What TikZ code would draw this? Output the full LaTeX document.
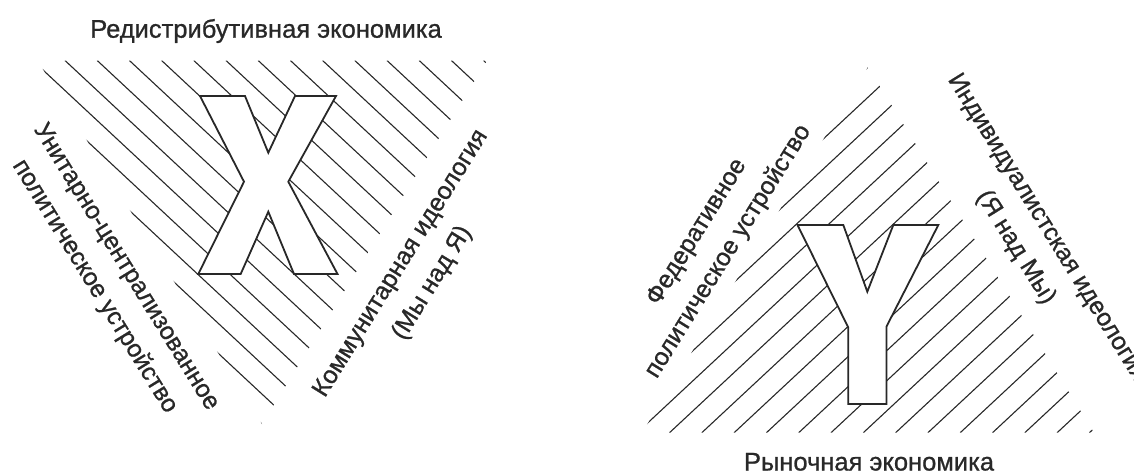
\documentclass[tikz,border=0pt]{standalone}
\usepackage{fontspec}
\setmainfont{Liberation Sans}[FakeBold=0.9]
\definecolor{ink}{RGB}{40,40,40}

\begin{document}
\begin{tikzpicture}[
        x=1pt, y=-1pt,
        txt/.style={
            text=ink,
            font=\fontsize{24.8}{37}\selectfont,
            inner sep=0pt,
            align=center
        },
        title/.style={txt, font=\fontsize{25.5}{30}\selectfont},
        hatch/.style={draw=ink, line width=1.1pt},
        glyph/.style={draw=ink, fill=white, line width=1.8pt, line join=miter}
    ]
    \useasboundingbox (0,0) rectangle (1134,475);

    % left triangle
    \begin{scope}
        \clip (37.5,60.5) -- (487,60.5) -- (262,424) -- cycle;
        \foreach \k in {-8,...,14}
            \draw[hatch] ({65+32.2*\k},60.5) -- ++(440,410);
    \end{scope}
    \draw[glyph] (200,96) -- (245,96) -- (268.3,152.7) -- (295,96) -- (336,96)
        -- (288.3,181.7) -- (337.5,274) -- (294,274) -- (268.3,211.7)
        -- (240.7,274) -- (198.3,274) -- (244,181.7) -- cycle;

    % right triangle
    \begin{scope}
        \clip (642,432.7) -- (1094,432.7) -- (868,67) -- cycle;
        \foreach \k in {-13,...,8}
            \draw[hatch] ({863.3+32.3*\k},432.7) -- ++(440,-410);
    \end{scope}
    \draw[glyph] (797.5,225) -- (843.3,225) -- (867.3,291.7) -- (893.3,225)
        -- (938.3,225) -- (886.5,326.5) -- (886.5,404) -- (848.3,404)
        -- (848.3,327.5) -- cycle;

    \node[title, anchor=base] (redist) at (266,37.7) {Редистрибутивная экономика};
    \node[title, anchor=base] (market) at (869,470.5) {Рыночная экономика};

    \node[txt, rotate=-58.3] (unitary) at (110,277)
        {Унитарно-централизованное\\политическое устройство};
    \node[txt, rotate=58.2] (communal) at (417,273.5)
        {Коммунитарная идеология\\(Мы над Я)};
    \node[txt, rotate=58.2] (federal) at (713,242)
        {Федеративное\\политическое устройство};
    \node[txt, rotate=-58.2] (individual) at (1031,238)
        {Индивидуалистская идеология\\(Я над Мы)};
\end{tikzpicture}
\end{document}
